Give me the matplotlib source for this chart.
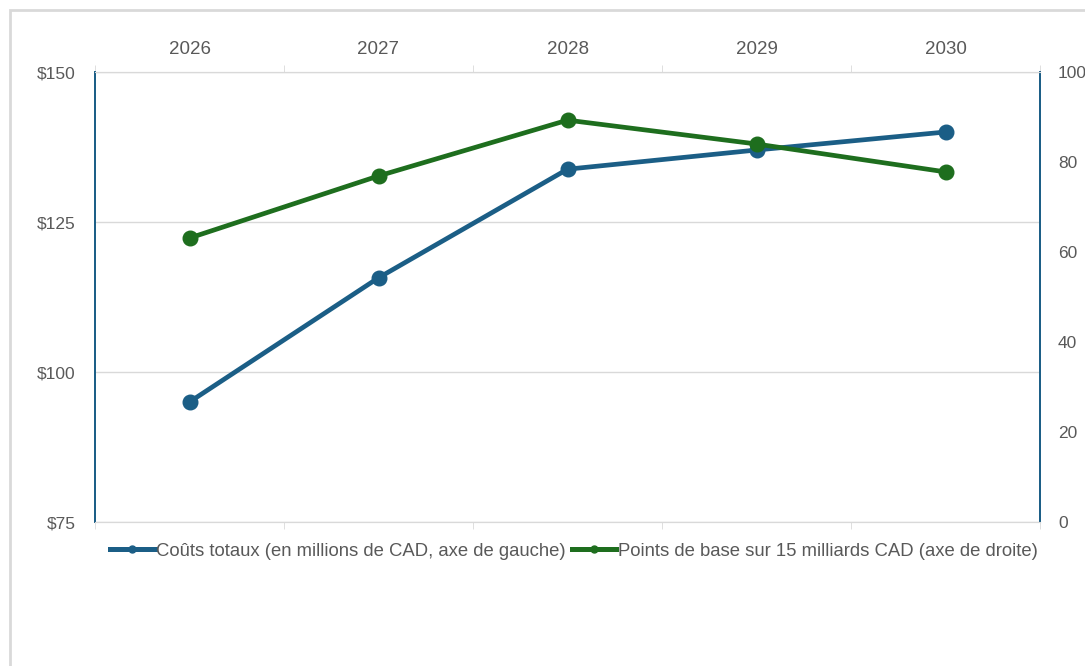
import matplotlib.pyplot as plt
from matplotlib.patches import Rectangle
from matplotlib.lines import Line2D

plt.rcParams['font.family'] = ['Liberation Sans', 'DejaVu Sans']

years = ['2026', '2027', '2028', '2029', '2030']
couts = [95.0, 115.7, 133.8, 137.0, 140.0]        # millions CAD, left axis
points_base = [63.1, 76.9, 89.3, 84.0, 77.8]      # basis points, right axis

blue = '#1b5e86'
green = '#1e6e1e'
grey_txt = '#595959'
grey_line = '#d9d9d9'

fig = plt.figure(figsize=(10.85, 6.66), dpi=100)
ax = fig.add_axes([95/1085, 1 - 522/666, (1040-95)/1085, (522-72)/666])
ax2 = ax.twinx()

x = list(range(len(years)))
ax.plot(x, couts, color=blue, lw=3.4, marker='o', ms=10.5, zorder=3)
ax2.plot(x, points_base, color=green, lw=3.4, marker='o', ms=10.5, zorder=3)

ax.set_xlim(-0.5, 4.5)
ax.set_ylim(75, 150)
ax.set_yticks([75, 100, 125, 150])
ax.set_yticklabels(['$75', '$100', '$125', '$150'])
ax2.set_ylim(0, 100)
ax2.set_yticks([0, 20, 40, 60, 80, 100])

ax.grid(axis='y', color=grey_line, lw=1)
ax.set_axisbelow(True)

# category labels on top, boundary ticks
ax.xaxis.tick_top()
ax.set_xticks(x)
ax.set_xticklabels(years)
ax.set_xticks([i - 0.5 for i in range(6)], minor=True)
ax.tick_params(axis='x', which='major', length=0, pad=10, labelsize=13.5,
               labelcolor=grey_txt)
ax.tick_params(axis='x', which='minor', length=5, color=grey_line,
               top=True, bottom=True, direction='out')
ax.tick_params(axis='y', length=0, pad=14, labelsize=12.5, labelcolor=grey_txt)
ax2.tick_params(axis='y', length=0, pad=13, labelsize=12.5, labelcolor=grey_txt)

for a in (ax, ax2):
    a.spines['top'].set_color(grey_line)
    a.spines['bottom'].set_color(grey_line)
    a.spines['left'].set_color(blue)
    a.spines['right'].set_color(blue)
    a.spines['left'].set_linewidth(1.3)
    a.spines['right'].set_linewidth(1.3)

handles = [Line2D([], [], color=blue, lw=3.6, marker='o', ms=5),
           Line2D([], [], color=green, lw=3.6, marker='o', ms=5)]
labels = ['Coûts totaux (en millions de CAD, axe de gauche)',
          'Points de base sur 15 milliards CAD (axe de droite)']
fig.legend(handles, labels, loc='center', bbox_to_anchor=(0.529, 1 - 551/666),
           ncol=2, frameon=False, fontsize=13.3, handlelength=2.4,
           handletextpad=0.1, columnspacing=0.3, labelcolor=grey_txt)

# outer chart frame
fig.patches.append(Rectangle((10/1085, -0.05), 1.1, 1 - 10/666 + 0.05,
                             transform=fig.transFigure, fill=False,
                             ec='#d9d9d9', lw=2))

fig.savefig('out.png', dpi=100)
